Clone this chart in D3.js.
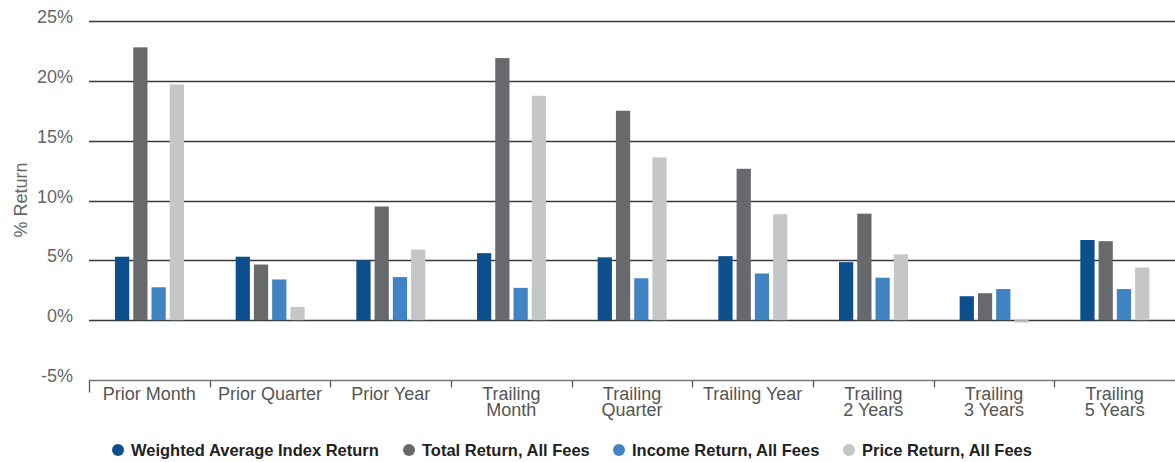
<!DOCTYPE html>
<html>
<head>
<meta charset="utf-8">
<script src="https://cdn.jsdelivr.net/npm/d3@7"></script>
<style>
  body { margin: 0; background: #fff; }
  svg { display: block; font-family: "Liberation Sans", Arial, sans-serif; }
</style>
</head>
<body>
<div id="chart"></div>
<script>
// data
var categories = [
  "Prior Month", "Prior Quarter", "Prior Year", "Trailing Month", "Trailing Quarter",
  "Trailing Year", "Trailing 2 Years", "Trailing 3 Years", "Trailing 5 Years"
];
var seriesNames = [
  "Weighted Average Index Return", "Total Return, All Fees",
  "Income Return, All Fees", "Price Return, All Fees"
];
var indexReturn  = [5.3, 5.3, 5.0, 5.6, 5.25, 5.35, 4.85, 2.0, 6.7];
var totalReturn  = [22.8, 4.65, 9.5, 21.9, 17.5, 12.65, 8.9, 2.25, 6.6];
var incomeReturn = [2.75, 3.4, 3.6, 2.7, 3.5, 3.9, 3.55, 2.6, 2.6];
var priceReturn  = [19.7, 1.1, 5.9, 18.75, 13.6, 8.85, 5.5, -0.2, 4.4];
var yTicks = [-5, 0, 5, 10, 15, 20, 25];

var colors = ["#0b4f8c", "#67696c", "#4184c4", "#c4c6c8"];
var allSeries = [indexReturn, totalReturn, incomeReturn, priceReturn];

var width = 1175, height = 462;
var margin = {top: 21, right: 0, bottom: 82, left: 89};

var svg = d3.select("#chart").append("svg")
  .attr("width", width)
  .attr("height", height);

var x0 = d3.scaleBand()
  .domain(categories)
  .range([margin.left, width - margin.right])
  .paddingInner(0)
  .paddingOuter(0);

var x1 = d3.scaleBand()
  .domain(d3.range(4))
  .range([26, 26 + 69])
  .paddingInner(0.22)
  .paddingOuter(0);

var y = d3.scaleLinear()
  .domain([-5, 25])
  .range([380, 21]);

// gridlines
svg.append("g")
  .selectAll("line")
  .data(yTicks.filter(d => d >= 0))
  .join("line")
  .attr("x1", margin.left)
  .attr("x2", width)
  .attr("y1", d => Math.round(y(d)) + 0.5)
  .attr("y2", d => Math.round(y(d)) + 0.5)
  .attr("stroke", "#3a3a3a")
  .attr("stroke-width", 1.3);

// y labels
svg.append("g")
  .selectAll("text")
  .data(yTicks)
  .join("text")
  .attr("x", 73)
  .attr("y", d => y(d) + 2)
  .attr("text-anchor", "end")
  .attr("fill", "#666")
  .style("font-size", "18px")
  .text(d => d + "%");

svg.append("text")
  .attr("transform", "translate(27,200)rotate(-90)")
  .attr("text-anchor", "middle")
  .attr("fill", "#666")
  .style("font-size", "18px")
  .text("% Return");

// bars
var groups = svg.append("g")
  .selectAll("g")
  .data(categories)
  .join("g")
  .attr("transform", d => "translate(" + x0(d) + ",0)");

groups.selectAll("rect")
  .data((c, ci) => allSeries.map((s, si) => ({si: si, v: s[ci]})))
  .join("rect")
  .attr("x", d => x1(d.si))
  .attr("width", x1.bandwidth())
  .attr("y", d => y(Math.max(0, d.v)))
  .attr("height", d => Math.max(1.5, Math.abs(y(d.v) - y(0))))
  .attr("fill", d => colors[d.si]);

// x axis at bottom
var axisY = Math.round(y(-5)) + 0.5;
svg.append("line")
  .attr("x1", margin.left)
  .attr("x2", width)
  .attr("y1", axisY)
  .attr("y2", axisY)
  .attr("stroke", "#777")
  .attr("stroke-width", 1.5);

svg.append("g")
  .selectAll("line")
  .data(categories)
  .join("line")
  .attr("x1", d => Math.round(x0(d)) + 0.5)
  .attr("x2", d => Math.round(x0(d)) + 0.5)
  .attr("y1", axisY)
  .attr("y2", (d, i) => i == 0 ? axisY + 12 : axisY + 7)
  .attr("stroke", "#555")
  .attr("stroke-width", 1.3);

// category labels
var labelLines = categories.map(c => {
  if (c.indexOf("Trailing") == 0 && c != "Trailing Year") return ["Trailing", c.replace("Trailing ", "")];
  return [c];
});

svg.append("g")
  .selectAll("text")
  .data(categories)
  .join("text")
  .attr("x", d => x0(d) + x0.bandwidth() / 2)
  .attr("y", 400)
  .attr("text-anchor", "middle")
  .attr("fill", "#555")
  .style("font-size", "18px")
  .each(function(d, i) {
    var t = d3.select(this);
    labelLines[i].forEach((ln, j) => {
      t.append("tspan")
        .attr("x", x0(d) + x0.bandwidth() / 2)
        .attr("dy", j == 0 ? 0 : 16)
        .text(ln);
    });
  });

// legend
var legendX = [118, 409, 619, 849];
var legend = svg.append("g")
  .selectAll("g")
  .data(seriesNames)
  .join("g")
  .attr("transform", (d, i) => "translate(" + legendX[i] + ",450)");

legend.append("circle")
  .attr("r", 6)
  .attr("fill", (d, i) => colors[i]);

legend.append("text")
  .attr("x", 13)
  .attr("y", 6)
  .attr("fill", "#222")
  .style("font-size", "16.5px")
  .style("font-weight", "bold")
  .text(d => d);
</script>
</body>
</html>
